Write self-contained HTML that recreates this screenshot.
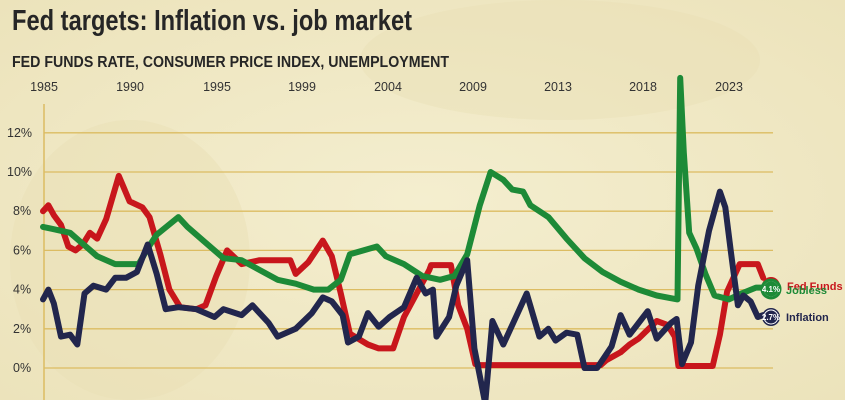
<!DOCTYPE html>
<html><head><meta charset="utf-8"><style>
body{margin:0;width:845px;height:400px;overflow:hidden;background:#f1eac6;font-family:"Liberation Sans",sans-serif}
svg{position:absolute;left:0;top:0}
</style></head><body>
<svg id="s" width="845" height="400" xmlns="http://www.w3.org/2000/svg">
<defs><radialGradient id="bg" cx="0.5" cy="0.5" r="0.7"><stop offset="0" stop-color="#f4eecf"/><stop offset="1" stop-color="#ece3bb"/></radialGradient></defs>
<rect width="845" height="400" fill="url(#bg)"/>
<ellipse cx="130" cy="260" rx="120" ry="140" fill="#e9e0b6" opacity="0.5"/>
<ellipse cx="560" cy="60" rx="200" ry="60" fill="#e8dfb4" opacity="0.4"/>
<text x="12" y="30" font-size="29" font-weight="bold" fill="#262626" textLength="400" lengthAdjust="spacingAndGlyphs">Fed targets: Inflation vs. job market</text>
<text x="12" y="67" font-size="16" font-weight="bold" fill="#262626" textLength="437" lengthAdjust="spacingAndGlyphs">FED FUNDS RATE, CONSUMER PRICE INDEX, UNEMPLOYMENT</text>
<g font-size="12.5" fill="#333" text-anchor="middle">
<text x="44" y="91">1985</text><text x="130" y="91">1990</text><text x="217" y="91">1995</text><text x="302" y="91">1999</text><text x="388" y="91">2004</text><text x="473" y="91">2009</text><text x="558" y="91">2013</text><text x="643" y="91">2018</text><text x="729" y="91">2023</text>
</g>
<g id="grid" stroke="#dcbc62" stroke-width="1.3"></g>
<line x1="44" y1="104" x2="44" y2="400" stroke="#dcbc62" stroke-width="1.5"/>
<g id="ylab" font-size="12.5" fill="#333"></g>
<g id="lines" fill="none" stroke-width="6" stroke-linejoin="round" stroke-linecap="round"></g>
<g font-weight="bold" font-size="10">
<circle cx="771" cy="286" r="9" fill="#c8161c"/>
<text x="787" y="290" fill="#c8161c" font-size="11">Fed Funds</text>
<circle cx="771" cy="289" r="9" fill="#fff" stroke="#1d8a37" stroke-width="3"/>
<circle cx="771" cy="289" r="7.5" fill="#1d8a37"/>
<text x="771" y="292" fill="#fff" font-size="8" text-anchor="middle">4.1%</text>
<text x="786" y="294" fill="#1d8a37" font-size="11">Jobless</text>
<circle cx="771" cy="317" r="9" fill="#22264d"/>
<circle cx="771" cy="317" r="7" fill="#22264d" stroke="#fff" stroke-width="1"/>
<text x="771" y="320" fill="#fff" font-size="8" text-anchor="middle">2.7%</text>
<text x="786" y="321" fill="#22264d" font-size="11">Inflation</text>
</g>
</svg>
<script>
const ns="http://www.w3.org/2000/svg";
const X=y=>43+(y-1985)*18.05, Y=v=>368-v*19.6;
const g=document.getElementById('grid'),yl=document.getElementById('ylab');
for(let p=0;p<=12;p+=2){const l=document.createElementNS(ns,'line');l.setAttribute('x1',44);l.setAttribute('x2',773);l.setAttribute('y1',Y(p));l.setAttribute('y2',Y(p));g.appendChild(l);
const t=document.createElementNS(ns,'text');t.setAttribute('x',p>=10?7:13);t.setAttribute('y',Y(p)+4);t.textContent=p+'%';yl.appendChild(t);}
const ff=[[1985,8.0],[1985.3,8.3],[1985.6,7.8],[1986,7.3],[1986.4,6.2],[1986.8,6.0],[1987.2,6.3],[1987.6,6.9],[1988,6.6],[1988.5,7.6],[1989.2,9.8],[1989.8,8.5],[1990.5,8.2],[1990.9,7.7],[1991.5,5.8],[1992,4],[1992.6,3.1],[1993.5,3.0],[1994,3.2],[1994.6,4.7],[1995.2,6.0],[1996,5.3],[1997,5.5],[1998.7,5.5],[1999,4.8],[1999.7,5.4],[2000.5,6.5],[2001,5.7],[2001.5,3.8],[2002,1.75],[2003,1.2],[2003.6,1.0],[2004.4,1.0],[2005,2.6],[2006.4,5.0],[2006.5,5.25],[2007.6,5.25],[2008,3.2],[2008.5,2.0],[2008.95,0.2],[2009.2,0.15],[2015.9,0.15],[2016.2,0.4],[2017,0.8],[2017.5,1.2],[2018,1.5],[2019,2.4],[2019.6,2.2],[2020.0,1.6],[2020.2,0.1],[2022.1,0.1],[2022.5,1.7],[2022.9,3.9],[2023.6,5.3],[2024.6,5.3],[2024.9,4.6]];
const cpi=[[1985,3.5],[1985.3,4.0],[1985.6,3.3],[1986,1.6],[1986.5,1.7],[1986.9,1.2],[1987.3,3.8],[1987.8,4.2],[1988.5,4.0],[1989,4.6],[1989.6,4.6],[1990.2,4.9],[1990.8,6.3],[1991.3,4.8],[1991.8,3.0],[1992.5,3.1],[1993.5,3.0],[1994.5,2.6],[1995,3.0],[1996,2.7],[1996.6,3.2],[1997.5,2.3],[1998,1.6],[1999,2.0],[1999.9,2.8],[2000.5,3.6],[2001,3.4],[2001.6,2.7],[2001.9,1.3],[2002.5,1.6],[2003,2.8],[2003.6,2.1],[2004.2,2.6],[2005,3.1],[2005.7,4.6],[2006.2,3.8],[2006.6,4.0],[2006.8,1.6],[2007.5,2.6],[2007.9,4.2],[2008.5,5.5],[2008.9,1.0],[2009.5,-1.8],[2009.9,2.4],[2010.5,1.2],[2011.8,3.8],[2012.5,1.6],[2013,2.0],[2013.4,1.4],[2014,1.8],[2014.6,1.7],[2015,0.0],[2015.7,0.0],[2016.5,1.1],[2017,2.7],[2017.5,1.7],[2018.5,2.9],[2019,1.5],[2019.8,2.3],[2020.1,2.5],[2020.4,0.2],[2020.9,1.3],[2021.3,4.2],[2021.9,7.0],[2022.5,9.0],[2022.8,8.2],[2023.1,6.0],[2023.5,3.2],[2023.8,3.7],[2024.2,3.4],[2024.6,2.6],[2024.9,2.7]];
const un=[[1985,7.2],[1985.5,7.1],[1986,7.0],[1986.5,6.9],[1987,6.5],[1987.5,6.1],[1988,5.7],[1989,5.3],[1989.6,5.3],[1990.3,5.3],[1990.8,6.1],[1991.3,6.8],[1992.5,7.7],[1993,7.2],[1994,6.4],[1995,5.6],[1996,5.5],[1997,5.0],[1998,4.5],[1999,4.3],[2000,4.0],[2000.8,4.0],[2001.5,4.5],[2002,5.8],[2003.5,6.2],[2004,5.7],[2005,5.3],[2006,4.7],[2007,4.5],[2007.8,4.7],[2008.5,5.8],[2009.2,8.3],[2009.8,10.0],[2010.5,9.6],[2011,9.1],[2011.6,9.0],[2012,8.3],[2013,7.7],[2014,6.6],[2015,5.6],[2016,4.9],[2017,4.4],[2018,4.0],[2019,3.7],[2020.15,3.5],[2020.3,14.8],[2020.5,11],[2020.8,6.9],[2021.2,6.1],[2021.7,4.8],[2022.2,3.7],[2023,3.5],[2023.7,3.8],[2024.5,4.1],[2024.9,4.1]];
const L=document.getElementById('lines');
[[ff,'#c8161c'],[un,'#1d8a37'],[cpi,'#22264d']].forEach(([d,c])=>{const p=document.createElementNS(ns,'polyline');p.setAttribute('points',d.map(a=>X(a[0]).toFixed(1)+','+Y(a[1]).toFixed(1)).join(' '));p.setAttribute('stroke',c);L.appendChild(p);});
</script>
</body></html>
